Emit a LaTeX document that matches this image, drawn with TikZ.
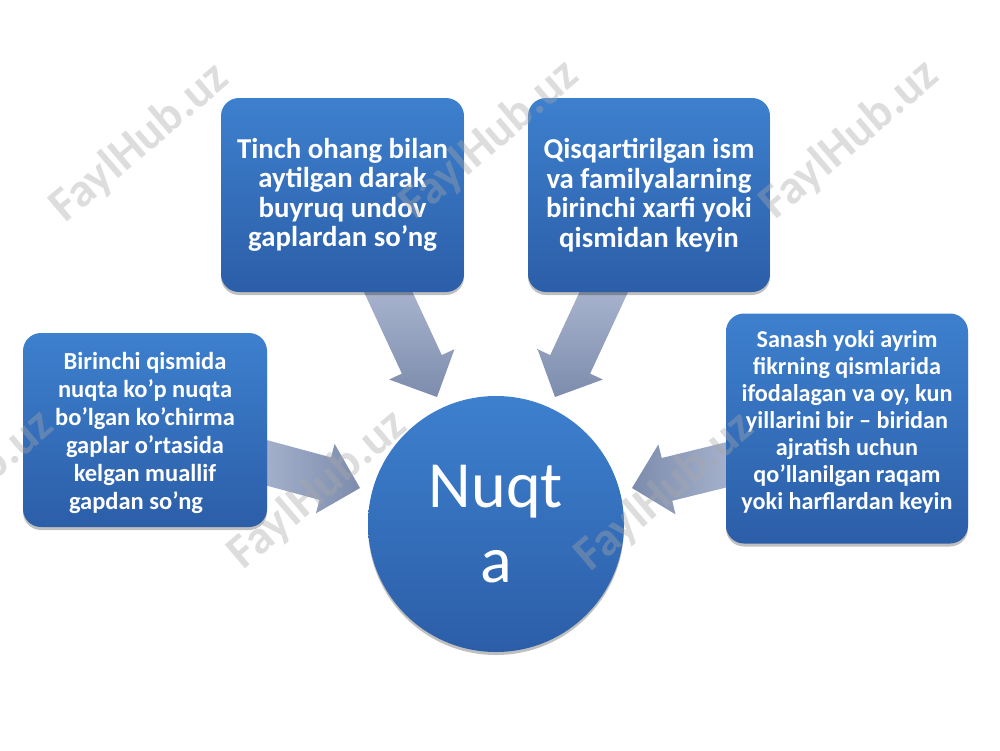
\documentclass[tikz,border=0pt]{standalone}
\usepackage{fontspec}
\setmainfont{Carlito}
\usetikzlibrary{calc,shadows}
\definecolor{boxtop}{HTML}{3D80CE}
\definecolor{boxbot}{HTML}{2C5EA8}
\definecolor{arrlight}{HTML}{B3BED6}
\definecolor{arrdark}{HTML}{7D8CAD}
\definecolor{wm}{HTML}{A8A8A8}
\tikzset{
  infobox/.style={rounded corners=18pt, top color=boxtop, bottom color=boxbot, draw=none,
    inner sep=0pt,
    drop shadow={shadow xshift=0pt, shadow yshift=-3pt, opacity=0.25, fill=black}},
  boxtext/.style={text=white, align=center, inner sep=0pt},
  bigtext/.style={boxtext, font=\fontsize{28.8}{29.5}\selectfont\bfseries},
  lefttext/.style={boxtext, font=\fontsize{24.5}{28}\selectfont\bfseries},
  righttext/.style={boxtext, font=\fontsize{24.2}{27}\selectfont\bfseries},
  centre/.style={circle, minimum size=256pt, inner sep=0pt, top color=boxtop, bottom color=boxbot,
    draw=none, text=white, align=center, font=\fontsize{66}{75}\selectfont,
    drop shadow={shadow xshift=0pt, shadow yshift=-3pt, opacity=0.25, fill=black}},
  vshade/.style={top color=arrlight, bottom color=arrdark, draw=none},
  lrshade/.style={left color=arrlight, right color=arrdark, draw=none},
  rlshade/.style={left color=arrdark, right color=arrlight, draw=none},
  wmark/.style={text=wm, text opacity=0.38, font=\fontsize{48}{48}\selectfont\bfseries, rotate=40.5},
}
% #1 name, #2 tail, #3 tip, #4 shading style
\newcommand\blockarrow[4]{%
  \coordinate (#1-h) at ($(#3)!36pt!(#2)$);
  \shade[#4] (#3) -- ($(#1-h)!36pt!90:(#3)$) -- ($(#1-h)!22pt!90:(#3)$)
    -- ($(#2)!22pt!90:(#1-h)$) -- ($(#2)!22pt!-90:(#1-h)$)
    -- ($(#1-h)!22pt!-90:(#3)$) -- ($(#1-h)!36pt!-90:(#3)$) -- cycle;
}
\begin{document}
\begin{tikzpicture}[x=1pt,y=-1pt]
\fill[white] (0,0) rectangle (1000,750);
\useasboundingbox (0,0) rectangle (1000,750);

% arrow end points
\coordinate (a1tail) at (378,270);  \coordinate (a1tip) at (437,397);
\coordinate (a2tail) at (614,270);  \coordinate (a2tip) at (555,397);
\coordinate (a3tail) at (234,454);  \coordinate (a3tip) at (360,488);
\coordinate (a4tail) at (758,457);  \coordinate (a4tip) at (632,488);

\blockarrow{a1}{a1tail}{a1tip}{vshade}
\blockarrow{a2}{a2tail}{a2tip}{vshade}
\blockarrow{a3}{a3tail}{a3tip}{lrshade}
\blockarrow{a4}{a4tail}{a4tip}{rlshade}

% boxes
\node[infobox, minimum width=243pt, minimum height=194pt] (top1) at (342.5,195) {};
\node[bigtext] (top1t) at (top1.center)
  {Tinch ohang bilan\\aytilgan darak\\buyruq undov\\gaplardan so’ng};
\node[infobox, minimum width=242pt, minimum height=194pt] (top2) at (649,195) {};
\node[bigtext] (top2t) at (top2.center)
  {Qisqartirilgan ism\\va familyalarning\\birinchi xarfi yoki\\qismidan keyin};
\node[infobox, minimum width=244pt, minimum height=194pt] (left) at (145,430) {};
\node[lefttext] (leftt) at ($(left.center)+(0,3)$)
  {Birinchi qismida\\nuqta ko’p nuqta\\bo’lgan ko’chirma\\gaplar o’rtasida\\kelgan muallif\\gapdan so’ng\kern18pt};
\node[infobox, minimum width=242pt, minimum height=230pt] (right) at (847,428.5) {};
\node[righttext] (rightt) at ($(right.center)+(0,-7)$)
  {Sanash yoki ayrim\\fikrning qismlarida\\ifodalagan va oy, kun\\yillarini bir – biridan\\ajratish uchun\\qo’llanilgan raqam\\yoki harflardan keyin};
\node[centre] (circ) at (496,524) {Nuqt\\a};

% watermarks
\node[wmark] (w1) at (140,143) {FaylHub.uz};
\node[wmark] (w2) at (490,140) {FaylHub.uz};
\node[wmark] (w3) at (850,140) {FaylHub.uz};
\node[wmark] (w4) at (-35,490) {FaylHub.uz};
\node[wmark] (w5) at (318,490) {FaylHub.uz};
\node[wmark] (w6) at (665,492) {FaylHub.uz};
\end{tikzpicture}
\end{document}
